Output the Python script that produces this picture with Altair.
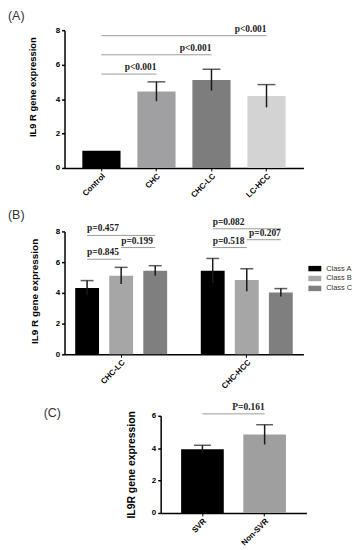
import altair as alt
import pandas as pd

# ---------------- data ----------------
# Panel A
a_groups = ["Control", "CHC", "CHC-LC", "LC-HCC"]
a_means = [1.0, 4.44, 5.11, 4.18]
a_sds = [0.0, 0.56, 0.62, 0.66]
a_colors = ["#000000", "#a0a0a2", "#7d7d7d", "#d3d3d3"]
a_sig_start = ["Control", "Control", "Control"]
a_sig_end = ["CHC", "CHC-LC", "LC-HCC"]
a_sig_y = [5.45, 6.57, 7.68]
a_sig_text = ["p<0.001", "p<0.001", "p<0.001"]

# Panel B
b_groups = ["CHC-LC", "CHC-HCC"]
b_classes = ["Class A", "Class B", "Class C"]
b_means_A = [4.32, 5.44]
b_means_B = [5.12, 4.84]
b_means_C = [5.44, 4.02]
b_sds_A = [0.48, 0.80]
b_sds_B = [0.54, 0.73]
b_sds_C = [0.33, 0.26]
b_colors = ["#000000", "#a6a6a6", "#7f7f7f"]
b_sig_group = ["CHC-LC", "CHC-LC", "CHC-LC", "CHC-HCC", "CHC-HCC", "CHC-HCC"]
b_sig_start = ["Class A", "Class A", "Class B", "Class A", "Class A", "Class B"]
b_sig_end = ["Class C", "Class B", "Class C", "Class C", "Class B", "Class C"]
b_sig_y = [7.74, 6.19, 6.95, 8.17, 6.95, 7.46]
b_sig_text = ["p=0.457", "p=0.845", "p=0.199", "p=0.082", "p=0.518", "p=0.207"]
b_sig_side = ["start", "start", "start", "start", "start", "end"]

# Panel C
c_groups = ["SVR", "Non-SVR"]
c_means = [3.94, 4.84]
c_sds = [0.24, 0.61]
c_colors = ["#000000", "#9f9f9f"]
c_sig_start = ["SVR"]
c_sig_end = ["Non-SVR"]
c_sig_y = [6.12]
c_sig_text = ["P=0.161"]

panel_labels = ["(A)", "(B)", "(C)"]
y_titles = ["IL9 R gene expression", "IL9 R gene expression", "IL9R gene expression"]

SANS = "Liberation Sans"
SERIF = "Liberation Serif"
ERR = "#1a1a1a"
SIGLINE = "#9a9a9a"


def y_axis(title, size, tx, ty, values):
    return alt.Axis(title=title, values=values, grid=False,
                    titleFont=SANS, titleFontWeight="bold", titleFontSize=size,
                    titleColor="#000000", titleX=tx, titleY=ty, titleAngle=270,
                    titleAlign="center", titleBaseline="bottom",
                    labelFont=SANS, labelFontWeight="bold", labelFontSize=8,
                    labelColor="#000000", labelPadding=2,
                    tickSize=3, tickWidth=1.5, tickColor="#000000",
                    domainColor="#000000", domainWidth=1.5)


def x_axis():
    return alt.Axis(title=None, labelAngle=-45, labelAlign="right", labelBaseline="top",
                    labelFont=SANS, labelFontWeight="bold", labelFontSize=8,
                    labelColor="#000000", labelPadding=1,
                    tickSize=3, tickWidth=1, tickColor="#000000",
                    domainColor="#000000", domainWidth=1.5)


def panel_label(text, x, y):
    return alt.Chart(pd.DataFrame({"label": [text]})).mark_text(
        align="left", baseline="top", font=SANS, fontSize=12.5, color="#333333"
    ).encode(text="label:N", x=alt.value(x), y=alt.value(y))


def anchor(left, top, bottom):
    # invisible vertical rule that fixes the panel's outer bounds for the layout
    return alt.Chart(pd.DataFrame({"a": [0]})).mark_rule(opacity=0, strokeWidth=0.1).encode(
        x=alt.value(left), y=alt.value(top), y2=alt.value(bottom))


def sig_long(starts, ends, ys, key="group", extra=None):
    rows = []
    for i, (s, e, y) in enumerate(zip(starts, ends, ys)):
        for c in (s, e):
            r = {"id": i, key: c, "y": y}
            if extra is not None:
                r["group"] = extra[i]
            rows.append(r)
    return pd.DataFrame(rows)


def simple_panel(groups, means, sds, colors, sig_start, sig_end, sig_y, sig_text,
                 width, height, ymax, yvals, pin, pout, title, tsize, tx, ty,
                 cap, bounds, label=None):
    df = pd.DataFrame({"group": groups, "mean": means, "sd": sds, "color": colors})
    df["lo"] = df["mean"] - df["sd"]
    df["hi"] = df["mean"] + df["sd"]
    xs = alt.Scale(paddingInner=pin, paddingOuter=pout)
    ys = alt.Scale(domain=[0, ymax], nice=False)
    yax = y_axis(title, tsize, tx, ty, yvals)
    x = alt.X("group:N", sort=groups, scale=xs, axis=x_axis())
    bars = alt.Chart(df).mark_bar().encode(
        x=x, y=alt.Y("mean:Q", scale=ys, axis=yax),
        color=alt.Color("color:N", scale=None))
    err = alt.Chart(df).transform_filter("datum.sd > 0").mark_rule(
        color=ERR, strokeWidth=1.5).encode(x=x, y=alt.Y("lo:Q", scale=ys, axis=yax), y2="hi:Q")
    caps = alt.Chart(df).transform_filter("datum.sd > 0").mark_tick(
        color=ERR, thickness=1.5, size=cap).encode(x=x, y=alt.Y("hi:Q", scale=ys, axis=yax))
    sl = sig_long(sig_start, sig_end, sig_y)
    lines = alt.Chart(sl).mark_line(color=SIGLINE, strokeWidth=1).encode(
        x=x, y=alt.Y("y:Q", scale=ys, axis=yax), detail="id:N")
    st = pd.DataFrame({"group": sig_end, "y": sig_y, "text": sig_text})
    texts = alt.Chart(st).mark_text(
        align="right", baseline="bottom", dy=-2, font=SERIF, fontWeight="bold",
        fontSize=9.5, color="#222222").encode(
        x=x, y=alt.Y("y:Q", scale=ys, axis=yax), text="text:N")
    layers = [bars, err, caps, lines, texts, anchor(*bounds)]
    if label is not None:
        layers.append(label)
    return alt.layer(*layers).properties(width=width, height=height)


panelA = simple_panel(a_groups, a_means, a_sds, a_colors, a_sig_start, a_sig_end, a_sig_y,
                      a_sig_text, 241, 139, 8, [0, 2, 4, 6, 8], 0.306, 0.324,
                      y_titles[0], 9.5, -27, 57, 18, (-57, -20, 172),
                      label=panel_label(panel_labels[0], -57, -20))

# ---------------- panel B ----------------
rows = []
for cls, ms, sds in zip(b_classes, [b_means_A, b_means_B, b_means_C], [b_sds_A, b_sds_B, b_sds_C]):
    for g, m, s in zip(b_groups, ms, sds):
        rows.append({"group": g, "cls": cls, "mean": m, "lo": m - s, "hi": m + s})
dfB = pd.DataFrame(rows)

xsB = alt.Scale(paddingInner=0.268, paddingOuter=0.085)
ysB = alt.Scale(domain=[0, 8], nice=False)
xoB = alt.Scale(paddingInner=0.30, paddingOuter=0)
yaxB = y_axis(y_titles[1], 10, -25, 60, [0, 2, 4, 6, 8])
xB = alt.X("group:N", sort=b_groups, scale=xsB, axis=x_axis())
xo = alt.XOffset("cls:N", sort=b_classes, scale=xoB)

barsB = alt.Chart(dfB).mark_bar().encode(
    x=xB, xOffset=xo,
    y=alt.Y("mean:Q", scale=ysB, axis=yaxB),
    color=alt.Color("cls:N", sort=b_classes,
                    scale=alt.Scale(domain=b_classes, range=b_colors),
                    legend=alt.Legend(title=None, orient="none", legendX=246, legendY=31,
                                      symbolType="M-1,-0.42H1V0.42H-1Z", symbolSize=169,
                                      symbolStrokeWidth=0, labelFont=SANS, labelFontSize=7.5,
                                      labelColor="#333333", labelOffset=5, rowPadding=0,
                                      padding=0)))
errB = alt.Chart(dfB).mark_rule(color=ERR, strokeWidth=1.5).encode(
    x=xB, xOffset=xo, y=alt.Y("lo:Q", scale=ysB, axis=yaxB), y2="hi:Q")
capsB = alt.Chart(dfB).mark_tick(color=ERR, thickness=1.5, size=13).encode(
    x=xB, xOffset=xo, y=alt.Y("hi:Q", scale=ysB, axis=yaxB))
slB = sig_long(b_sig_start, b_sig_end, b_sig_y, key="cls", extra=b_sig_group)
linesB = alt.Chart(slB).mark_line(color=SIGLINE, strokeWidth=1).encode(
    x=xB, xOffset=xo, y=alt.Y("y:Q", scale=ysB, axis=yaxB), detail="id:N")
stB = pd.DataFrame({"group": b_sig_group, "start": b_sig_start, "end": b_sig_end,
                    "y": b_sig_y, "text": b_sig_text, "side": b_sig_side})
textStyle = dict(baseline="bottom", dy=-2, font=SERIF, fontWeight="bold", fontSize=9.5,
                 color="#222222")
textsB1 = alt.Chart(stB).transform_filter("datum.side == 'start'").transform_calculate(
    cls="datum.start").mark_text(align="left", **textStyle).encode(
    x=xB, xOffset=xo, y=alt.Y("y:Q", scale=ysB, axis=yaxB), text="text:N")
textsB2 = alt.Chart(stB).transform_filter("datum.side == 'end'").transform_calculate(
    cls="datum.end").mark_text(align="right", **textStyle).encode(
    x=xB, xOffset=xo, y=alt.Y("y:Q", scale=ysB, axis=yaxB), text="text:N")
panelB = alt.layer(barsB, errB, capsB, linesB, textsB1, textsB2,
                   panel_label(panel_labels[1], -57, -23),
                   anchor(-57, -23, 160)).properties(width=241, height=124)

# ---------------- panel C ----------------
panelC = simple_panel(c_groups, c_means, c_sds, c_colors, c_sig_start, c_sig_end, c_sig_y,
                      c_sig_text, 147, 98, 6, [0, 2, 4, 6], 0.314, 0.329,
                      y_titles[2], 10.5, -24, 49, 17, (-40, -17, 130))
# left cell of the last row carries the "(C)" tag and pushes panel C to the right
tagC = panel_label(panel_labels[2], -21, -9).properties(width=57, height=98)
rowC = alt.concat(tagC, panelC, columns=2, spacing=0, align="each")

chart = alt.vconcat(panelA, panelB, rowC, spacing=8).resolve_scale(
    color="independent").resolve_legend(color="independent").properties(
    padding=0, background="white").configure_view(stroke=None)

chart.save("out.html", embed_options={"renderer": "svg", "actions": False})
